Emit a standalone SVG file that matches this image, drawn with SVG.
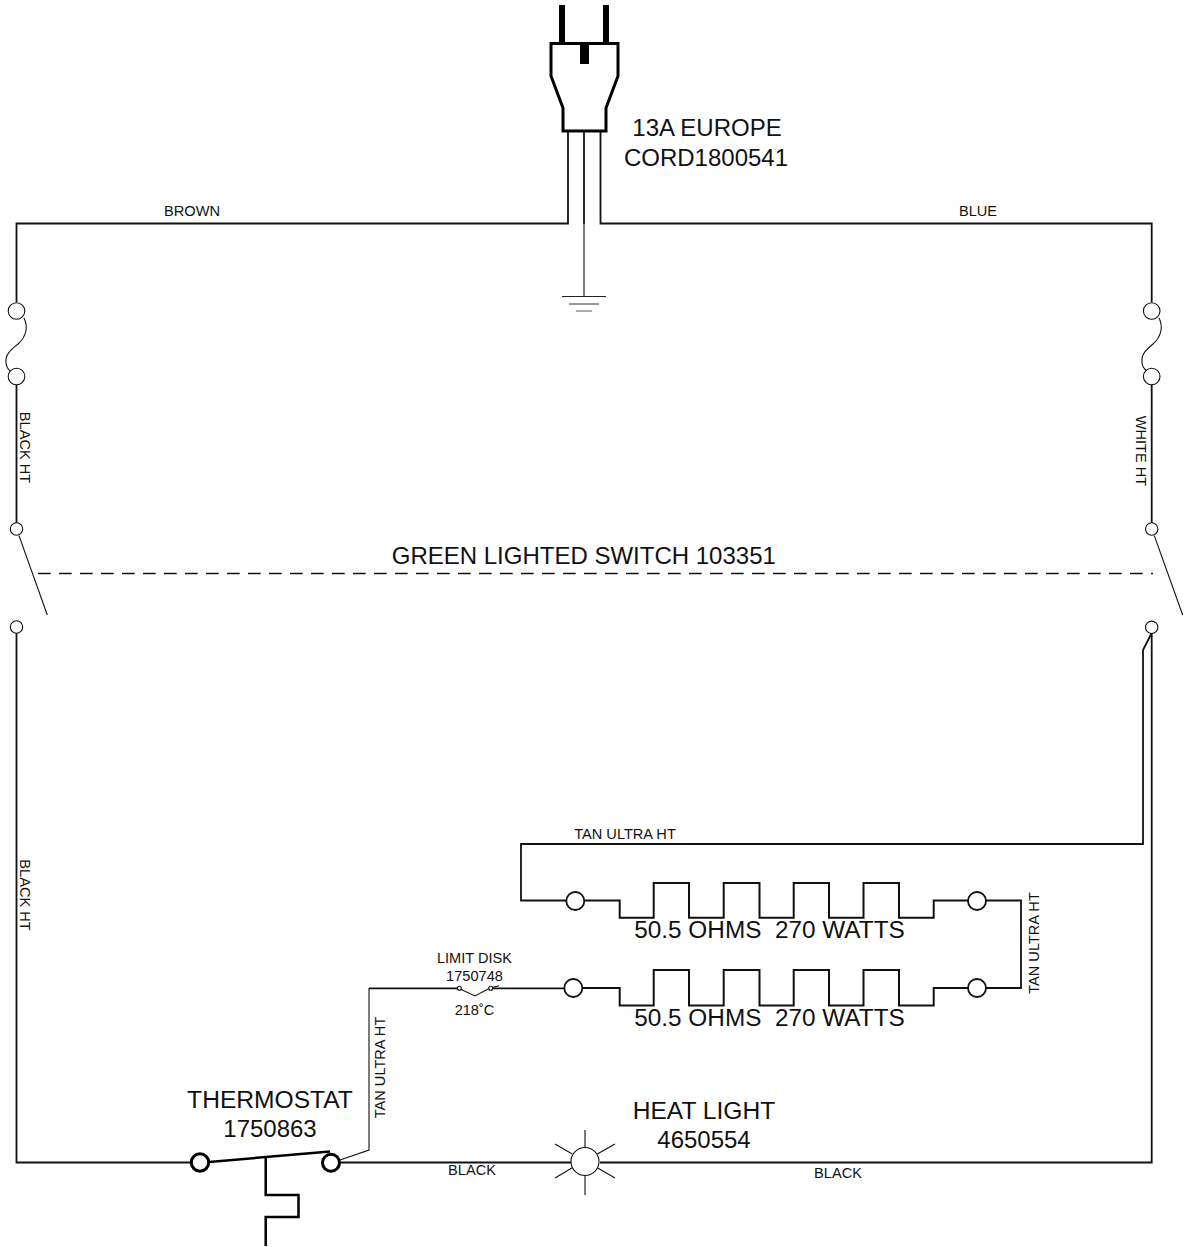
<svg xmlns="http://www.w3.org/2000/svg" width="1185" height="1247" viewBox="0 0 1185 1247">
<style>
text{font-family:"Liberation Sans",Arial,sans-serif;fill:#111;white-space:pre}
.s{font-size:14.600px}.l{font-size:24px}.n{font-size:24.600px}.q{font-size:24.350px}.c{text-anchor:middle}
.w{fill:none;stroke:#111;stroke-width:1.8;stroke-linejoin:miter}
.t{fill:none;stroke:#111;stroke-width:1.1}
.h{fill:none;stroke:#111;stroke-width:2;stroke-linejoin:miter}
.k{fill:none;stroke:#000;stroke-width:3}
.o{fill:#fff;stroke:#111;stroke-width:1.1}
.r{fill:#fff;stroke:#111;stroke-width:1.8}
.b{fill:#fff;stroke:#000;stroke-width:3}
</style>
<rect width="1185" height="1247" fill="#fff"/>
<g id="connectors">
<path class="w" d="M568 131V223.500H16.500V302"/>
<path class="w" d="M600.500 131V223.500H1151.700V302"/>
<path class="w" d="M584 131V224"/>
<path class="w" d="M16.500 385V523M1151.700 385V523"/>
<path class="w" d="M16.500 633V1162.500H190"/>
<path class="w" d="M1151.700 633V1162.500H600"/>
<path class="w" d="M1151.700 633L1143 650V844H521V900.500H566"/>
<path class="w" d="M341 1162.500H571"/>
<path class="t" d="M340 1160L369 1150V988"/>
<path class="w" d="M369 988.300H459M491 988.300H564"/>
<path class="h" d="M585 900.500H619.700V917.700H653.700V883H689V917.700H723.700V883H759.500V917.700H793.700V883H829V917.700H863.500V883H899V917.700H933.700V900.500H968"/>
<path class="h" d="M583 988H619.700V1005.500H653.700V970H689V1005.500H723.700V970H759.500V1005.500H793.700V970H829V1005.500H863.500V970H899V1005.500H933.700V988H968"/>
<path class="w" d="M986 900.500H1021V988H986"/>
</g>
<g id="plug">
<path d="M562 5V43M606 5V43" fill="none" stroke="#000" stroke-width="6"/>
<path d="M584.500 43V64" fill="none" stroke="#000" stroke-width="9"/>
<path class="k" d="M551 43.500H618V76L606 108V131H563V108L551 76Z"/>
</g>
<g id="ground">
<path class="t" d="M584 224V296"/>
<path d="M562 296.500H606" stroke="#222" stroke-width="1"/>
<path d="M569 304H599" stroke="#777" stroke-width="1.5"/>
<path d="M576 311H592" stroke="#777" stroke-width="1.2"/>
</g>
<g id="left-fuse">
<path class="t" d="M24 318C28 326 27 336 18 344C12 349 5 354 6 362C6 366 8 369 10 371"/>
<circle class="o" cx="16.500" cy="311" r="8.300"/>
<circle class="o" cx="16.500" cy="376.500" r="8.300"/>
</g>
<g id="right-fuse">
<path class="t" d="M1159 318C1163 326 1162 336 1153 344C1147 349 1141 354 1142 362C1142 366 1144 369 1147 371"/>
<circle class="o" cx="1151.700" cy="311" r="8.300"/>
<circle class="o" cx="1151.700" cy="376.500" r="8.300"/>
</g>
<g id="switch">
<path class="t" d="M19 535.600L47.300 615M1154.300 535.600L1182.700 615"/>
<circle class="o" cx="16.500" cy="529" r="6.200"/>
<circle class="o" cx="16.500" cy="627" r="6.200"/>
<circle class="o" cx="1151.700" cy="529" r="6.200"/>
<circle class="o" cx="1151.700" cy="627.300" r="6.200"/>
<path d="M38 573.500H1153" fill="none" stroke="#111" stroke-width="1.400" stroke-dasharray="12.700 8.300"/>
<text class="l c" x="583.800" y="564">GREEN LIGHTED SWITCH 103351</text>
</g>
<g id="heater">
<circle class="r" cx="575.300" cy="901" r="9"/>
<circle class="r" cx="977" cy="901" r="9"/>
<circle class="r" cx="573.300" cy="988" r="9"/>
<circle class="r" cx="977" cy="988" r="9"/>
<text class="q c" x="769.500" y="938">50.5 OHMS  270 WATTS</text>
<text class="q c" x="769.500" y="1026">50.5 OHMS  270 WATTS</text>
</g>
<g id="limit-disk">
<path class="t" d="M459 988.500L475 996L490 988L499 985.700"/>
<circle class="o" cx="459.300" cy="988.300" r="2"/>
<circle class="o" cx="490.700" cy="988.300" r="2"/>
<text class="s c" x="474.500" y="963">LIMIT DISK</text>
<text class="s c" x="474.500" y="981">1750748</text>
<text class="s c" x="474.500" y="1015">218˚C</text>
</g>
<g id="thermostat">
<path d="M209 1162L330 1151.500" fill="none" stroke="#000" stroke-width="2.500"/>
<path d="M265.700 1156V1195H298.500V1217H265.700V1246" fill="none" stroke="#000" stroke-width="2.500"/>
<circle class="b" cx="200" cy="1162.500" r="8.700"/>
<circle class="b" cx="331" cy="1162.700" r="8.500"/>
<text class="n c" x="270" y="1108">THERMOSTAT</text>
<text class="l c" x="270" y="1137">1750863</text>
</g>
<g id="heat-light">
<path class="t" d="M585 1130V1147M585 1175V1195M597.300 1154L615 1144M572.300 1154L555 1144M572.300 1167.700L555 1178M597.300 1167.700L615 1178"/>
<circle class="o" cx="585" cy="1161.500" r="14"/>
<text class="n c" x="704" y="1119">HEAT LIGHT</text>
<text class="l c" x="704" y="1148">4650554</text>
</g>
<g id="labels">
<text class="l c" x="707" y="136">13A EUROPE</text>
<text class="l c" x="706" y="166">CORD1800541</text>
<text class="s c" x="192" y="216">BROWN</text>
<text class="s c" x="978" y="216">BLUE</text>
<text class="s c" transform="translate(20 447.500) rotate(90)">BLACK HT</text>
<text class="s c" transform="translate(1136 451) rotate(90)">WHITE HT</text>
<text class="s c" transform="translate(20 895) rotate(90)">BLACK HT</text>
<text class="s c" x="625" y="839">TAN ULTRA HT</text>
<text class="s c" transform="translate(1039 943) rotate(-90)">TAN ULTRA HT</text>
<text class="s c" transform="translate(385 1067.500) rotate(-90)">TAN ULTRA HT</text>
<text class="s c" x="472" y="1175">BLACK</text>
<text class="s c" x="838" y="1178">BLACK</text>
</g>
</svg>
